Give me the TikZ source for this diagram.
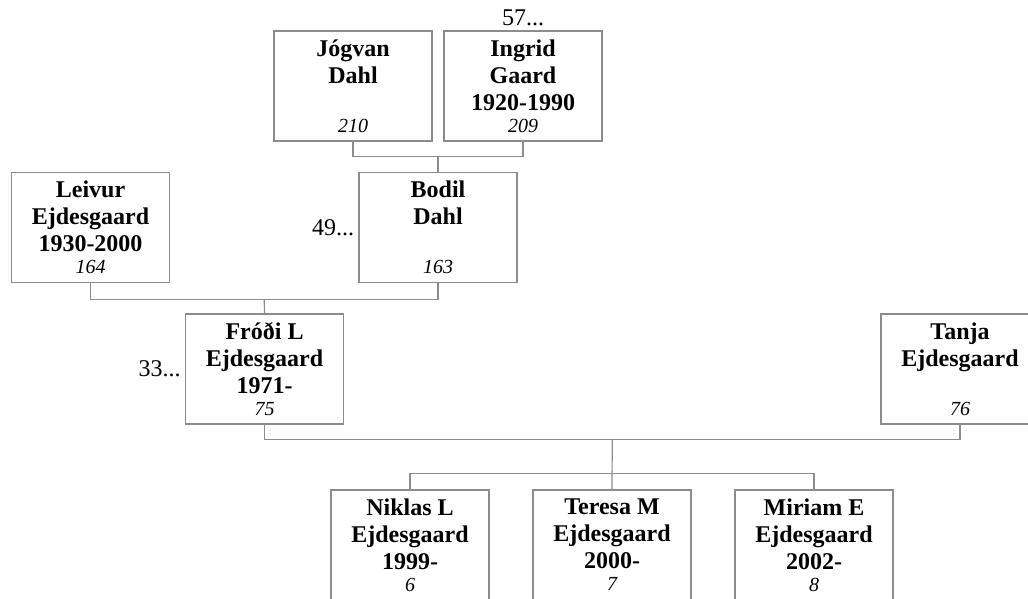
\documentclass[tikz,border=0pt]{standalone}
\usepackage{fontspec}
\setmainfont{Liberation Serif}
\usetikzlibrary{positioning,calc}
\definecolor{boxgray}{RGB}{140,140,140}
\newcommand{\refno}[1]{\\[-5pt]{\mdseries\itshape\fontsize{20}{22}\selectfont #1}}

\begin{document}
\begin{tikzpicture}[
  x=1pt, y=-1pt,
  person/.style = {draw=boxgray, line width=1.2pt, minimum width=158pt,
    minimum height=110pt, inner sep=0pt, align=center,
    font=\fontsize{24}{27}\selectfont\bfseries},
  link/.style = {draw=boxgray, line width=1.2pt},
  more/.style = {font=\fontsize{24}{27}\selectfont, inner sep=4pt},
  ]
  \useasboundingbox (0,0) rectangle (1028,599);
  % grandparents
  \node[person] (jogvan) at (353,86) {J\'ogvan\\Dahl\\\mbox{}\refno{210}};
  \node[person] (ingrid) at (523,86) {Ingrid\\Gaard\\1920-1990\refno{209}};
  \node[more, above=0pt of ingrid] (ingridmore) {57...};
  % parents of Fródi
  \node[person] (leivur) at (90.5,227.5) {Leivur\\Ejdesgaard\\1930-2000\refno{164}};
  \node[person] (bodil) at (438,227.5) {Bodil\\Dahl\\\mbox{}\refno{163}};
  \node[more, left=0pt of bodil] (bodilmore) {49...};
  % couple
  \node[person] (frodi) at (264.5,369) {Fr\'o\dh i L\\Ejdesgaard\\1971-\refno{75}};
  \node[more, left=0pt of frodi] (frodimore) {33...};
  \node[person] (tanja) at (960,369) {Tanja\\Ejdesgaard\\\mbox{}\refno{76}};
  % children
  \node[person] (niklas) at (410,545) {Niklas L\\Ejdesgaard\\1999-\refno{6}};
  \node[person] (teresa) at (612,545) {Teresa M\\Ejdesgaard\\2000-\refno{7}};
  \node[person] (miriam) at (814,545) {Miriam E\\Ejdesgaard\\2002-\refno{8}};
  % family lines
  \draw[link] (jogvan.south) |- ($(jogvan.south)!.5!(ingrid.south)+(0,15)$)
    coordinate (bar1) -| (ingrid.south);
  \draw[link] (bar1) -- (bodil.north);
  \draw[link] (leivur.south) |- ($(leivur.south)!.5!(bodil.south)+(0,16)$)
    coordinate (bar2) -| (bodil.south);
  \draw[link] (bar2) -- (frodi.north);
  \draw[link] (frodi.south) |- ($(frodi.south)!.5!(tanja.south)+(0,15)$)
    coordinate (bar3) -| (tanja.south);
  \draw[link] (bar3) -- (teresa.north);
  \draw[link] (niklas.north) -- ++(0,-16) -| (miriam.north);
\end{tikzpicture}
\end{document}
